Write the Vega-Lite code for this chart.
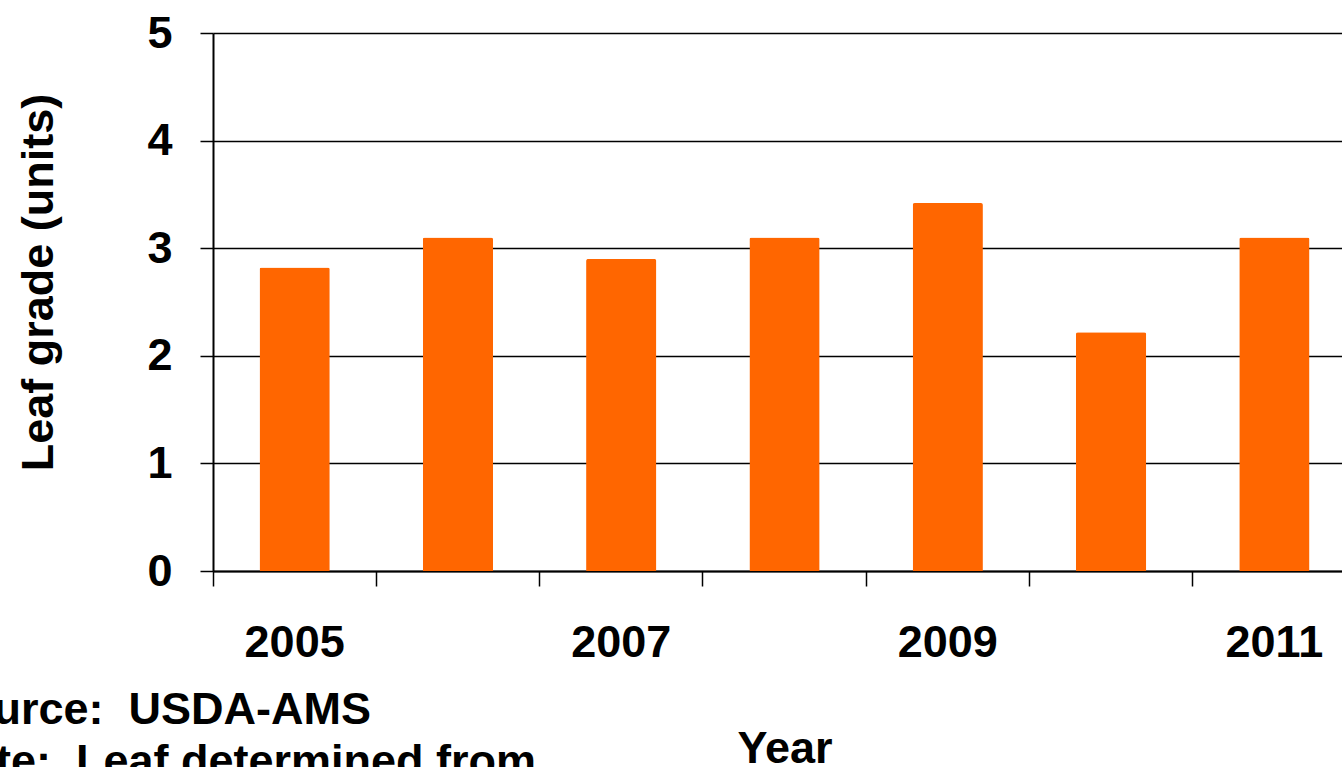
{
  "$schema": "https://vega.github.io/schema/vega-lite/v6.json",
  "width": 1143,
  "height": 538,
  "autosize": {"type": "none"},
  "padding": {"left": 213, "top": 33, "right": 0, "bottom": 196},
  "background": "white",
  "config": {"font": "Liberation Sans", "view": {"stroke": null}},
  "title": {
    "text": ["Source:\u00a0\u00a0USDA-AMS", "Note:\u00a0\u00a0Leaf determined from"],
    "orient": "bottom",
    "anchor": "start",
    "align": "left",
    "fontSize": 45,
    "fontWeight": "bold",
    "color": "black",
    "lineHeight": 52,
    "dx": -80,
    "dy": -87
  },
  "data": {
    "values": [
      {"year": 2005, "grade": 2.82},
      {"year": 2006, "grade": 3.1},
      {"year": 2007, "grade": 2.9},
      {"year": 2008, "grade": 3.1},
      {"year": 2009, "grade": 3.42},
      {"year": 2010, "grade": 2.22},
      {"year": 2011, "grade": 3.1}
    ]
  },
  "mark": {"type": "bar", "color": "#FF6600", "width": {"band": 0.43}, "cornerRadiusTopLeft": 2, "cornerRadiusTopRight": 2},
  "encoding": {
    "x": {
      "field": "year",
      "type": "ordinal",
      "scale": {"paddingInner": 0, "paddingOuter": 0},
      "axis": {
        "title": "Year",
        "titleFontSize": 45,
        "titleFontWeight": "bold",
        "titleColor": "black",
        "titleY": 177,
        "titleBaseline": "middle",
        "bandPosition": 0,
        "labelAngle": 0,
        "labelExpr": "datum.value % 2 == 1 ? datum.label : ''",
        "labelFontSize": 45,
        "labelFontWeight": "bold",
        "labelColor": "black",
        "labelPadding": 34,
        "labelBaseline": "top",
        "tickSize": 15,
        "tickColor": "black",
        "tickWidth": 1.5,
        "domainColor": "black",
        "domainWidth": 2,
        "grid": false
      }
    },
    "y": {
      "field": "grade",
      "type": "quantitative",
      "scale": {"domain": [0, 5], "nice": false},
      "axis": {
        "title": "Leaf grade (units)",
        "titleFontSize": 45,
        "titleFontWeight": "bold",
        "titleColor": "black",
        "titleX": -175,
        "titleY": 249,
        "titleBaseline": "middle",
        "titleAngle": -90,
        "values": [0, 1, 2, 3, 4, 5],
        "labelFontSize": 45,
        "labelFontWeight": "bold",
        "labelColor": "black",
        "labelPadding": 28,
        "tickSize": 13,
        "tickColor": "black",
        "tickWidth": 1.5,
        "domainColor": "black",
        "domainWidth": 2,
        "grid": true,
        "gridColor": "black",
        "gridWidth": 1.5
      }
    }
  }
}
